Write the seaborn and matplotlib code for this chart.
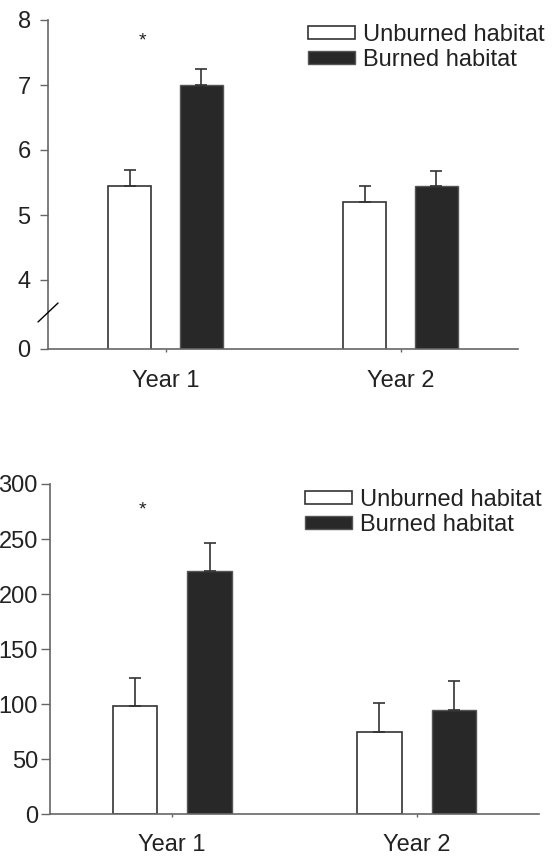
import matplotlib
matplotlib.use("Agg")
import matplotlib.pyplot as plt
import seaborn as sns
import pandas as pd

# ---------------- data ----------------
years = ["Year 1", "Year 2"]
habitats = ["Unburned habitat", "Burned habitat"]

top_unburned = [5.44, 5.20]
top_burned = [7.00, 5.45]
top_err_unburned = [0.25, 0.24]
top_err_burned = [0.24, 0.23]
top_tick_labels = ["0", "4", "5", "6", "7", "8"]

bot_unburned = [98, 75]
bot_burned = [221, 95]
bot_err_unburned = [26, 26]
bot_err_burned = [25, 26]
bot_ticks = [0, 50, 100, 150, 200, 250, 300]

# ---------------- style ----------------
sns.set_style("ticks")
plt.rcParams["font.family"] = ["Liberation Sans", "DejaVu Sans"]
FS = 17
AXC = "#666666"
TXT = "#222222"

fig = plt.figure(figsize=(5.58, 8.56), dpi=100)
W, H = 558, 856
ax1 = fig.add_axes([48 / W, (H - 349) / H, 470 / W, 329 / H])
ax2 = fig.add_axes([50 / W, (H - 814.3) / H, 489 / W, 330.3 / H])


def draw(ax, unb, bur, eu, eb, xpad):
    df = pd.DataFrame({
        "year": years * 2,
        "habitat": [habitats[0]] * len(years) + [habitats[1]] * len(years),
        "value": list(unb) + list(bur),
    })
    sns.barplot(data=df, x="year", y="value", hue="habitat", order=years,
                hue_order=habitats, palette=["white", "#282828"], saturation=1,
                width=0.61, gap=0.4, errorbar=None, legend=False, ax=ax)
    for bar in ax.containers[0]:
        bar.set_edgecolor("#333333")
        bar.set_linewidth(1.2)
    for bar in ax.containers[1]:
        bar.set_edgecolor("#555555")
        bar.set_linewidth(1.0)
    for cont, errs in zip(ax.containers, [eu, eb]):
        for bar, e in zip(cont, errs):
            xc = bar.get_x() + bar.get_width() / 2
            ax.errorbar(xc, bar.get_height(), yerr=[[0], [e]], fmt="none",
                        ecolor="#333333", elinewidth=1.2, capsize=4,
                        capthick=1.2, zorder=3)
    ax.set_xlim(-0.5, 1.5)
    ax.set_xlabel("")
    ax.set_ylabel("")
    sns.despine(ax=ax)
    for s in ["left", "bottom"]:
        ax.spines[s].set_color(AXC)
        ax.spines[s].set_linewidth(1.2)
    ax.tick_params(axis="x", length=2, width=1, color=AXC, labelsize=FS,
                   labelcolor=TXT, pad=xpad)
    leg = ax.legend(handles=ax.containers, labels=habitats, frameon=False,
                    fontsize=FS, borderpad=0, borderaxespad=0,
                    handlelength=2.0, handleheight=0.43, handletextpad=0.35,
                    labelspacing=0.13, loc="upper left")
    for t in leg.get_texts():
        t.set_color(TXT)
    return leg


# top panel (broken axis)
leg1 = draw(ax1, top_unburned, top_burned, top_err_unburned, top_err_burned, 13)
break_pos = 4 - 69 / 65
ax1.set_ylim(break_pos, 8)
ax1.set_yticks([break_pos, 4, 5, 6, 7, 8])
ax1.set_yticklabels(top_tick_labels)
ax1.tick_params(axis="y", length=6, width=1, color=AXC, labelsize=FS,
                labelcolor=TXT, pad=6.5)
ax1.plot([-0.5426, -0.4574], [3.354, 3.646], color="black", lw=1,
         clip_on=False, zorder=5)
ax1.text(-0.096, 7.68, "*", ha="center", va="center", fontsize=14, color=TXT)
leg1.set_bbox_to_anchor((0.553, 0.988), transform=ax1.transAxes)

# bottom panel
leg2 = draw(ax2, bot_unburned, bot_burned, bot_err_unburned, bot_err_burned, 12)
ax2.set_ylim(0, 300)
ax2.set_yticks(bot_ticks)
ax2.tick_params(axis="y", length=6.5, width=1, color=AXC, labelsize=FS,
                labelcolor=TXT, pad=2.2)
ax2.text(-0.12, 276, "*", ha="center", va="center", fontsize=14, color=TXT)
leg2.set_bbox_to_anchor((0.521, 0.985), transform=ax2.transAxes)

fig.savefig("out.png", dpi=100)
